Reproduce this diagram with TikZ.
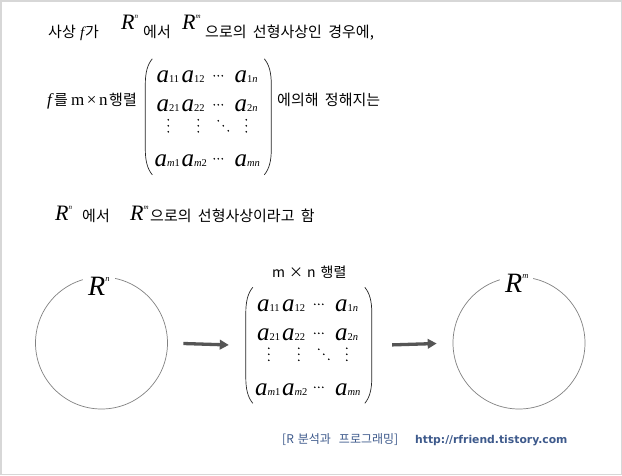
\documentclass[tikz,border=0pt]{standalone}
\usepackage{fontspec}
\setmainfont{Noto Sans CJK KR}[WordSpace=1.9]
\newfontfamily\tmr{Liberation Serif}
\newfontfamily\dvs{DejaVu Sans}
\usetikzlibrary{arrows.meta}
\definecolor{arrowgray}{RGB}{85,85,85}
\definecolor{footblue}{RGB}{62,90,140}
\definecolor{circgray}{RGB}{130,130,130}
\definecolor{framegray}{RGB}{215,215,215}
\newcommand\krs{\fontsize{15}{18}\selectfont}
\newcommand\RR[4]{{\fontsize{#1}{#1}\selectfont\tmr\itshape R}\raisebox{#2}{\fontsize{#3}{#3}\selectfont\tmr\itshape #4}}
\newcommand\ent[1]{{\fontsize{25}{25}\selectfont\tmr\itshape a}{\fontsize{10.5}{10.5}\selectfont\tmr #1}}
\newcommand\amat[2]{%
  \node[minimum width=126pt,minimum height=116pt,inner sep=0pt] (#1) at (#2) {};
  \begin{scope}[shift={(#1.north west)}]
    \draw[paren] (7,0) .. controls (2,6) and (0,14) .. (0,26) -- (0,90) .. controls (0,102) and (2,110) .. (7,116);
    \draw[paren] (119,0) .. controls (124,6) and (126,14) .. (126,26) -- (126,90) .. controls (126,102) and (124,110) .. (119,116);
    \node[ent] (#1-11) at (11,24) {\ent{11}};
    \node[ent] (#1-12) at (36,24) {\ent{12}};
    \node[ent] (#1-1n) at (89,24) {\ent{1{\itshape n}}};
    \node[ent] (#1-21) at (11,53) {\ent{21}};
    \node[ent] (#1-22) at (36,53) {\ent{22}};
    \node[ent] (#1-2n) at (89,53) {\ent{2{\itshape n}}};
    \node[ent] (#1-m1) at (9,108) {\ent{{\itshape m}1}};
    \node[ent] (#1-m2) at (36,108) {\ent{{\itshape m}2}};
    \node[ent] (#1-mn) at (89,108) {\ent{{\itshape mn}}};
    \foreach \p in {(69,17),(73,17),(77,17),(69,46),(73,46),(77,46),(69,100),(73,100),(77,100),
      (23,61),(23,67),(23,73),(53,61),(53,67),(53,73),(101,61),(101,67),(101,73),
      (73,62),(78,67),(83,72)}
      \fill[black] \p circle (0.9);
  \end{scope}}
\begin{document}
\begin{tikzpicture}[x=1pt,y=-1pt,
  txt/.style={anchor=base west,inner sep=0pt,font=\krs},
  ent/.style={anchor=base west,inner sep=0pt},
  paren/.style={line width=0.7pt,black!85},
  ring/.style={circle,draw=circgray,line width=0.7pt,minimum size=132pt,inner sep=0pt},
  rlabel/.style={anchor=base west,fill=white,inner xsep=5pt,inner ysep=2pt},
  flow/.style={draw=arrowgray,line width=3.3pt,-{Triangle[length=9pt,width=9.5pt]}},
  foot/.style={anchor=base west,inner sep=0pt,text=footblue}]
\fill[white] (0,0) rectangle (622,475);
\useasboundingbox (0,0) rectangle (622,475);
\draw[framegray,line width=1.5pt] (0.75,0.75) rectangle (621.25,474.25);

% line 1
\node[txt] (t1a) at (48,37) {사상};
\node[txt] (t1f) at (80,37) {\tmr\itshape f};
\node[txt] (t1b) at (85,37) {가};
\node[txt] (t1R) at (121,29) {\RR{22}{11pt}{7}{n}};
\node[txt] (t1c) at (143,37) {에서};
\node[txt] (t1R2) at (182,29) {\RR{22}{11pt}{7}{m}};
\node[txt] (t1d) at (205,37) {으로의 선형사상인 경우에,};

% line 2
\node[txt] (t2f) at (47,105) {\fontsize{17}{17}\selectfont\tmr\itshape f};
\node[txt] (t2a) at (54,105) {를};
\node[txt] (t2mn) at (71,105) {\fontsize{17}{17}\selectfont\tmr m\kern2.5pt×\kern2.5pt n};
\node[txt] (t2b) at (109,105) {행렬};
\amat{m1}{208.5,117}
\node[txt] (t2c) at (277,105) {에의해 정해지는};

% line 3
\node[txt] (t3R) at (55,220) {\RR{22}{11pt}{7}{n}};
\node[txt] (t3a) at (82,221) {에서};
\node[txt] (t3R2) at (130,220) {\RR{22}{11pt}{7}{m}};
\node[txt] (t3b) at (150,221) {으로의 선형사상이라고 함};

% bottom diagram
\node[ring] (c1) at (101.5,343) {};
\node[ring] (c2) at (519,343) {};
\node[rlabel] (lR1) at (83,295) {\RR{28}{14pt}{8.5}{n}};
\node[rlabel] (lR2) at (500,292) {\RR{28}{14pt}{8.5}{m}};
\amat{m2}{309,345.5}
\node[txt,font=\fontsize{14}{16}\selectfont] (lbl) at (272,277) {m\hspace{4pt}×\hspace{4pt}n\hspace{5pt}행렬};
\draw[flow,shorten <=15.5pt,shorten >=17pt] (c1.east) -- (m2.west);
\draw[flow,shorten <=20pt,shorten >=16pt] (m2.east) -- (c2.west);

% footer
\node[foot,font=\fontsize{12}{14}\selectfont] (f1) at (282,443) {[R\hspace{4pt}분석과\hspace{8pt}프로그래밍]};
\node[foot,font=\fontsize{10.8}{13}\selectfont\dvs\bfseries] (f2) at (415,443) {http://rfriend.tistory.com};
\end{tikzpicture}
\end{document}
